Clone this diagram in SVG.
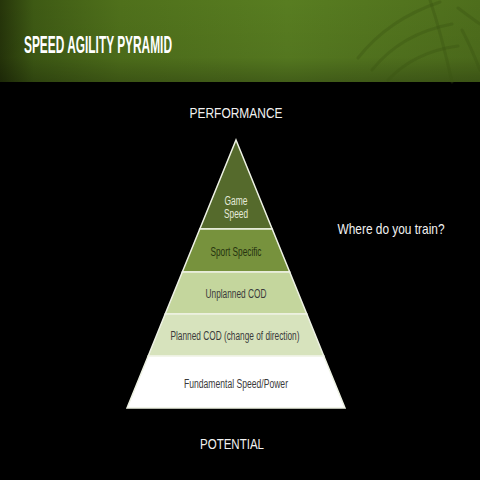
<svg xmlns="http://www.w3.org/2000/svg" width="480" height="480" viewBox="0 0 480 480">
  <defs>
    <linearGradient id="hdr" x1="0" y1="0" x2="1" y2="0">
      <stop offset="0" stop-color="#26350a"/>
      <stop offset="0.07" stop-color="#3e5a14"/>
      <stop offset="0.25" stop-color="#4f701b"/>
      <stop offset="0.6" stop-color="#587d21"/>
      <stop offset="1" stop-color="#4e6e1c"/>
    </linearGradient>
    <linearGradient id="hdrv" x1="0" y1="0" x2="0" y2="1">
      <stop offset="0" stop-color="#000" stop-opacity="0"/>
      <stop offset="0.7" stop-color="#000" stop-opacity="0.05"/>
      <stop offset="1" stop-color="#000" stop-opacity="0.25"/>
    </linearGradient>
    <style>
      .layer { stroke: #eef2e4; stroke-width: 1.5; stroke-linejoin: miter; }
      .lbl { font-family: "Liberation Sans", "Open Sans", sans-serif; font-size: 12px; text-anchor: middle; }
      .side { font-family: "Liberation Sans", Arial, sans-serif; font-size: 15px; fill: #f2f2f2; text-anchor: middle; }
      .leaf { fill: none; stroke: #3a5312; stroke-opacity: 0.35; stroke-width: 3; stroke-linecap: round; }
    </style>
  </defs>

  <rect x="0" y="0" width="480" height="480" fill="#000"/>

  <!-- header band -->
  <g id="header">
    <rect x="0" y="0" width="480" height="82" fill="url(#hdr)"/>
    <rect x="0" y="0" width="480" height="82" fill="url(#hdrv)"/>
    <path class="leaf" d="M358 58 C380 30 410 12 440 2"/>
    <path class="leaf" d="M372 70 C392 45 420 30 452 24"/>
    <path class="leaf" d="M388 80 C405 62 428 50 458 46"/>
    <path class="leaf" d="M430 0 C440 30 446 55 452 82"/>
    <path class="leaf" d="M462 30 C470 45 476 60 480 70"/>
    <path class="leaf" d="M458 8 C466 14 474 20 480 24"/>
    <text x="24" y="53" font-family="'Liberation Sans', Arial, sans-serif" font-weight="bold" font-size="23" fill="#ffffff" textLength="148" lengthAdjust="spacingAndGlyphs">SPEED AGILITY PYRAMID</text>
  </g>

  <text class="side" x="236" y="118" textLength="93" lengthAdjust="spacingAndGlyphs">PERFORMANCE</text>
  <text class="side" x="391" y="234" textLength="107" lengthAdjust="spacingAndGlyphs">Where do you train?</text>
  <text class="side" x="232" y="449" textLength="64" lengthAdjust="spacingAndGlyphs">POTENTIAL</text>

  <g id="pyramid">
    <g id="layer-game-speed">
      <polygon class="layer" points="236,140 272.2,229 199.8,229" fill="#556a2c"/>
      <text class="lbl" x="236" y="205" fill="#e6ebdb" textLength="23" lengthAdjust="spacingAndGlyphs">Game</text>
      <text class="lbl" x="236" y="218" fill="#e6ebdb" textLength="24" lengthAdjust="spacingAndGlyphs">Speed</text>
    </g>
    <g id="layer-sport-specific">
      <polygon class="layer" points="199.8,229 272.2,229 289.7,272 182.3,272" fill="#77923d"/>
      <text class="lbl" x="236" y="256" fill="#26330f" textLength="51" lengthAdjust="spacingAndGlyphs">Sport Specific</text>
    </g>
    <g id="layer-unplanned">
      <polygon class="layer" points="182.3,272 289.7,272 306.8,314 165.2,314" fill="#c4d69d"/>
      <text class="lbl" x="236" y="298" fill="#3a3a3a" textLength="61" lengthAdjust="spacingAndGlyphs">Unplanned COD</text>
    </g>
    <g id="layer-planned">
      <polygon class="layer" points="165.2,314 306.8,314 323.8,356 148.2,356" fill="#d7e3bd"/>
      <text class="lbl" x="235" y="340" fill="#3a3a3a" textLength="129" lengthAdjust="spacingAndGlyphs">Planned COD (change of direction)</text>
    </g>
    <g id="layer-fundamental">
      <polygon class="layer" points="148.2,356 323.8,356 345,408 127,408" fill="#ffffff"/>
      <text class="lbl" x="236" y="388" fill="#3a3a3a" textLength="104" lengthAdjust="spacingAndGlyphs">Fundamental Speed/Power</text>
    </g>
  </g>
</svg>
